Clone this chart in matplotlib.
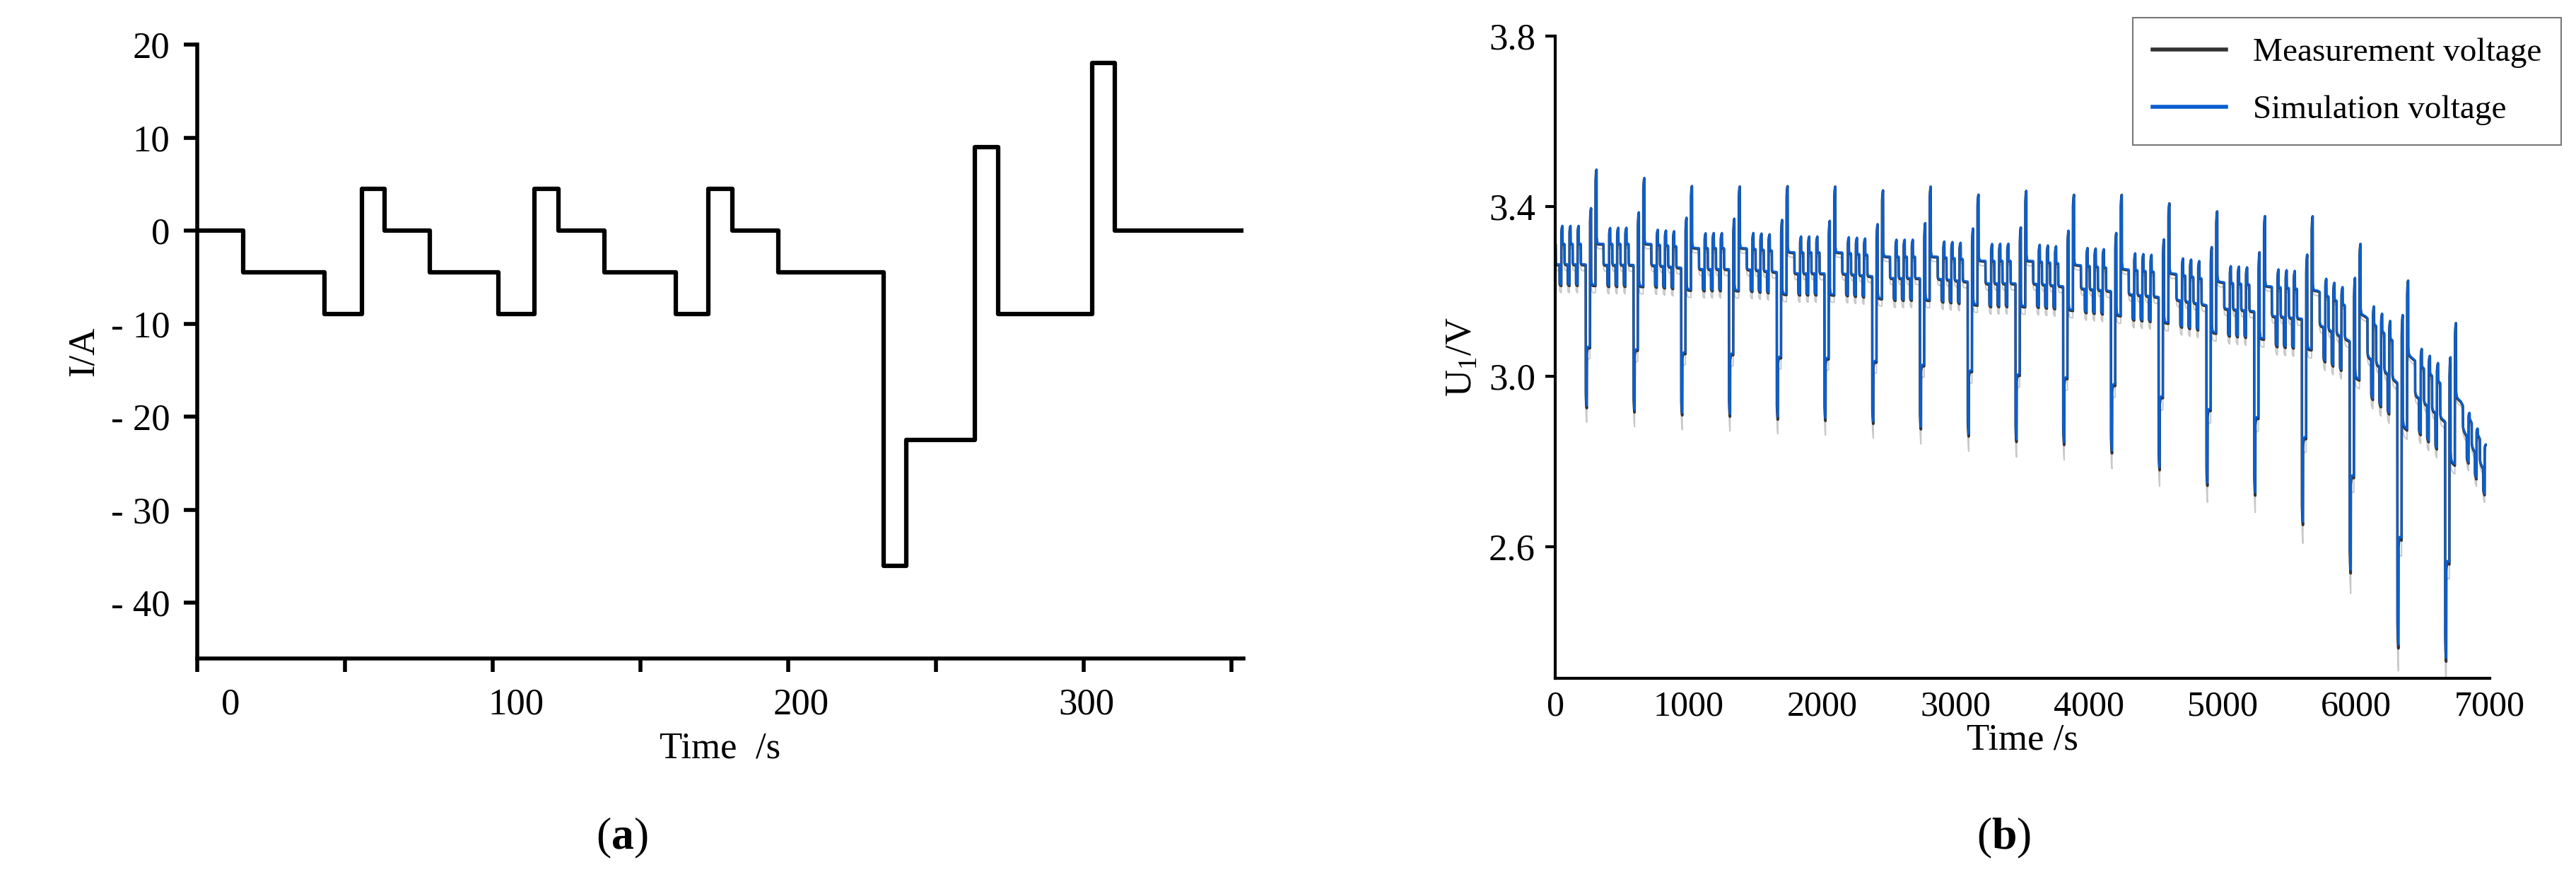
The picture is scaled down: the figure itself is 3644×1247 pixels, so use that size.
import numpy as np
import matplotlib
matplotlib.use("Agg")
import matplotlib.pyplot as plt

plt.rcParams['font.family'] = ['Liberation Serif', 'DejaVu Serif']
plt.rcParams['mathtext.fontset'] = 'custom'
plt.rcParams['mathtext.rm'] = 'Liberation Serif'
plt.rcParams['mathtext.bf'] = 'Liberation Serif:bold'

# ---- (a) current profile ----
step_times = [-11.6, 4.4, 33, 46, 54, 70, 94, 106.5, 115, 131, 156, 167.5, 176, 192, 229, 237, 261, 269, 302, 310, 355]
step_current = [0, -4.5, -9, 4.5, 0, -4.5, -9, 4.5, 0, -4.5, -9, 4.5, 0, -4.5, -36, -22.5, 9, -9, 18, 0]
a_xticklabels = [0, 100, 200, 300]
a_yticks = [20, 10, 0, -10, -20, -30, -40]

# ---- (b) voltage: per-cycle values ----
cycle_period = 357.6
cycle_offset = -11.0
cycle_rest_v = [3.31, 3.31, 3.31, 3.30, 3.30, 3.29, 3.29, 3.28, 3.28, 3.27,
                3.27, 3.26, 3.25, 3.24, 3.22, 3.21, 3.20, 3.14, 3.04, 2.94]
cycle_dip_v = [2.92, 2.91, 2.91, 2.90, 2.90, 2.89, 2.89, 2.87, 2.86, 2.84,
               2.84, 2.82, 2.78, 2.75, 2.72, 2.65, 2.57, 2.42, 2.39, 2.50]
cycle_peak_v = [3.49, 3.47, 3.46, 3.45, 3.46, 3.45, 3.45, 3.45, 3.44, 3.44,
                3.44, 3.44, 3.42, 3.41, 3.39, 3.39, 3.37, 3.32, 3.22, 3.00]
t_end = 6970
b_xticks = [0, 1000, 2000, 3000, 4000, 5000, 6000, 7000]
b_yticks = [2.6, 3.0, 3.4, 3.8]


def current_at(tc):
    idx = np.searchsorted(step_times, tc, side='right') - 1
    idx = np.clip(idx, 0, len(step_current) - 1)
    return np.array(step_current)[idx]


def build_voltage(scale=1.0, shift=0.0):
    t = np.arange(0, t_end + 1, 1.0)
    k = np.floor((t - cycle_offset) / cycle_period).astype(int)
    k = np.clip(k, 0, len(cycle_rest_v) - 1)
    tc = t - (k * cycle_period + cycle_offset) + step_times[0]
    I = current_at(tc)
    rest = np.array(cycle_rest_v)
    nxt = np.append(rest[1:], rest[-1] - 0.22)
    frac = (tc - step_times[0]) / cycle_period
    ocv = rest[k] + (nxt[k] - rest[k]) * frac
    Rd = (rest - np.array(cycle_dip_v)) / 36.0 * scale
    Rc = (np.array(cycle_peak_v) - rest) / 18.0 * scale
    R = np.where(I < 0, Rd[k], Rc[k])
    v0 = ocv + 0.85 * R * I
    up = np.zeros_like(t)
    tau = 4.0
    for i in range(1, len(t)):
        up[i] = up[i - 1] + (0.15 * R[i] * I[i] - up[i - 1]) / tau
    return t, v0 + up + shift


fig = plt.figure(figsize=(36.44, 12.47), dpi=100)

# ---------- (a) ----------
ax1 = fig.add_axes([0.0766, 0.2534, 0.406, 0.696])
ax1.step(step_times, step_current + [step_current[-1]], where='post', color='black', lw=4.5)
ax1.set_xlim(-11.6, 355)
ax1.set_ylim(-46, 20)
for s in ['top', 'right']:
    ax1.spines[s].set_visible(False)
for s in ['left', 'bottom']:
    ax1.spines[s].set_linewidth(4)
ax1.set_xticks(np.arange(-11.6, 356, 51.8))
ax1.set_xticklabels([])
ax1.set_xticks(a_xticklabels, minor=True)
ax1.set_xticklabels([str(v) for v in a_xticklabels], minor=True)
ax1.tick_params(axis='x', which='major', direction='out', length=14, width=4)
ax1.tick_params(axis='x', which='minor', length=0, pad=30, labelsize=38)
ax1.set_yticks(a_yticks)
ax1.set_yticklabels([str(v) if v >= 0 else '- ' + str(-v) for v in a_yticks])
ax1.tick_params(axis='y', direction='out', length=14, width=4, labelsize=38, pad=14)
ax1.set_xlabel('Time  /s', fontsize=38, labelpad=10)
ax1.set_ylabel('I/A', fontsize=38, labelpad=10)
fig.text(0.2415, 0.037, r'($\mathbf{a}$)', fontsize=46, ha='center')

# ---------- (b) ----------
ax2 = fig.add_axes([0.6037, 0.231, 0.3628, 0.728])
t, vg = build_voltage(scale=1.06, shift=-0.01)
_, vm = build_voltage()
_, vs = build_voltage(scale=0.99, shift=0.002)
ax2.plot(t, vg, color='#c8c8c8', lw=1.4)
ax2.plot(t, vm, color='#333333', lw=2.6, label='Measurement voltage')
ax2.plot(t, vs, color='#0a5fd0', lw=2.0, label='Simulation voltage')
ax2.set_xlim(0, 7000)
ax2.set_ylim(2.29, 3.8)
for s in ['top', 'right']:
    ax2.spines[s].set_visible(False)
for s in ['left', 'bottom']:
    ax2.spines[s].set_linewidth(3)
ax2.set_xticks(b_xticks)
ax2.tick_params(axis='x', length=0, labelsize=36, pad=12)
ax2.set_yticks(b_yticks)
ax2.set_yticklabels(['%.1f' % v for v in b_yticks])
ax2.tick_params(axis='y', direction='out', length=10, width=3, labelsize=38, pad=10)
ax2.set_xlabel('Time /s', fontsize=38, labelpad=0)
ax2.set_ylabel(r'U$_\mathrm{1}$/V', fontsize=38, labelpad=10)
leg = ax2.legend(loc='upper left', bbox_to_anchor=(0.6, 1.055), fontsize=34, frameon=True,
                 fancybox=False, edgecolor='#555555', handlelength=2.2, borderpad=0.6,
                 labelspacing=0.8)
leg.get_frame().set_linewidth(1.5)
for line in leg.get_lines():
    line.set_linewidth(4)
fig.text(0.778, 0.037, r'($\mathbf{b}$)', fontsize=46, ha='center')

fig.savefig('out.png', dpi=100)
